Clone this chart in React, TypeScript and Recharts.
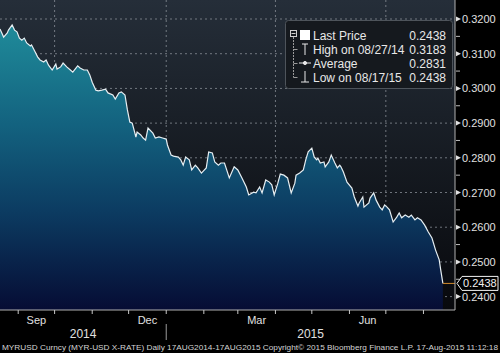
import React from "react";
import { ComposedChart, Area, XAxis, YAxis, CartesianGrid, ReferenceLine } from "recharts";

// ---- data (day offsets from 17-Aug-2014, MYR-USD rate) ----
const START_DATE = "2014-08-17";
const dayOffsets = [
  0, 3, 6, 7, 10, 12, 14, 16, 18, 20, 22, 25, 26, 29, 31, 33, 36, 38, 40, 43,
  46, 47, 50, 52, 55, 58, 60, 64, 66, 69, 72, 74, 76, 79, 81, 84, 87, 89, 93, 95,
  98, 100, 103, 105, 107, 109, 112, 113, 116, 118, 120, 122, 126, 128, 131, 134, 137, 138, 141, 143,
  147, 149, 151, 153, 156, 158, 161, 163, 166, 170, 172, 175, 177, 180, 182, 185, 189, 193, 196, 199,
  203, 205, 209, 211, 214, 216, 219, 222, 224, 226, 229, 231, 234, 237, 240, 243, 244, 247, 250, 252,
  254, 257, 259, 261, 262, 264, 267, 268, 271, 273, 276, 278, 280, 281, 283, 286, 290, 292, 295, 296,
  299, 300, 304, 305, 308, 310, 313, 315, 317, 319, 321, 324, 327, 329, 331, 334, 337, 339, 342, 344,
  347, 350, 353, 356, 359, 362, 363, 365,
];
const rates = [
  0.3171, 0.3148, 0.316, 0.3168, 0.3183, 0.3168, 0.3163, 0.3145, 0.3139, 0.3145,
  0.3131, 0.3122, 0.3125, 0.3105, 0.3091, 0.3082, 0.3076, 0.3082, 0.3067, 0.3053,
  0.307, 0.3056, 0.3062, 0.3073, 0.3062, 0.3053, 0.3047, 0.3065, 0.3059, 0.3053,
  0.3053, 0.3039, 0.3018, 0.2995, 0.2993, 0.2995, 0.2998, 0.2987, 0.2981, 0.2969,
  0.2987, 0.299, 0.2981, 0.2938, 0.2903, 0.29, 0.286, 0.2874, 0.2866, 0.2857,
  0.2851, 0.2886, 0.2871, 0.2857, 0.286, 0.2857, 0.2854, 0.2837, 0.2808, 0.2805,
  0.2802, 0.2794, 0.2779, 0.2802, 0.2794, 0.2765, 0.2779, 0.2771, 0.2756, 0.2771,
  0.2817, 0.2814, 0.2788, 0.2779, 0.2785, 0.2785, 0.2742, 0.2774, 0.2765, 0.2745,
  0.2716, 0.2693, 0.2701, 0.2699, 0.2716, 0.2699, 0.2736, 0.273, 0.2722, 0.2693,
  0.2727, 0.2753, 0.275, 0.2742, 0.2699, 0.2727, 0.275, 0.2756, 0.2765, 0.2794,
  0.2817, 0.2828, 0.2802, 0.2794, 0.2799, 0.2785, 0.2788, 0.2774, 0.2788, 0.2808,
  0.2785, 0.2771, 0.2779, 0.2774, 0.2759, 0.273, 0.2713, 0.2687, 0.2661, 0.267,
  0.2687, 0.2658, 0.267, 0.2684, 0.2699, 0.2678, 0.2658, 0.265, 0.2664, 0.2658,
  0.265, 0.2615, 0.2629, 0.2641, 0.2627, 0.2635, 0.2629, 0.2635, 0.2621, 0.2627,
  0.2621, 0.2606, 0.2586, 0.2569, 0.2534, 0.2506, 0.2482, 0.2438,
];

const lastPrice = 0.2438;
const yMajorTicks = [0.24, 0.25, 0.26, 0.27, 0.28, 0.29, 0.3, 0.31, 0.32];
const yMinorTicks = [0.245, 0.255, 0.265, 0.275, 0.285, 0.295, 0.305, 0.315];
const yDomain = [0.23614, 0.32548];
const xDomainEnd = 375;

const monthStarts = [
  "2014-09-01", "2014-10-01", "2014-11-01", "2014-12-01", "2015-01-01", "2015-02-01",
  "2015-03-01", "2015-04-01", "2015-05-01", "2015-06-01", "2015-07-01", "2015-08-01",
];
const gridMonths = ["2014-10-01", "2015-01-01", "2015-04-01", "2015-07-01"];
const monthLabels = [
  { name: "Sep", from: "2014-09-01", to: "2014-10-01" },
  { name: "Dec", from: "2014-12-01", to: "2015-01-01" },
  { name: "Mar", from: "2015-03-01", to: "2015-04-01" },
  { name: "Jun", from: "2015-06-01", to: "2015-07-01" },
];
const yearBoundary = "2015-01-01";
const yearLabels = ["2014", "2015"];

const legendRows = [
  { label: "Last Price", value: "0.2438", icon: "square" },
  { label: "High on 08/27/14", value: "0.3183", icon: "high" },
  { label: "Average", value: "0.2831", icon: "avg" },
  { label: "Low on 08/17/15", value: "0.2438", icon: "low" },
];

const footerText =
  "MYRUSD Curncy (MYR-USD X-RATE)  Daily 17AUG2014-17AUG2015  Copyright\u00A9 2015 Bloomberg Finance L.P.  17-Aug-2015 11:12:18";

// ---- helpers ----
const dayOf = (s: string) => Math.round((Date.parse(s) - Date.parse(START_DATE)) / 86400000);

const data = dayOffsets.map((d, i) => ({ day: d, rate: rates[i] }));

const xTickInfo = new Map<number, { kind: string; text?: string }>();
monthStarts.forEach((m) => xTickInfo.set(dayOf(m), { kind: m === yearBoundary ? "yearStart" : "month" }));
monthLabels.forEach((m) => xTickInfo.set((dayOf(m.from) + dayOf(m.to)) / 2, { kind: "monthLabel", text: m.name }));
const yb = dayOf(yearBoundary);
xTickInfo.set(yb / 2, { kind: "yearLabel", text: yearLabels[0] });
xTickInfo.set((yb + xDomainEnd) / 2, { kind: "yearLabel", text: yearLabels[1] });
const xTicks = Array.from(xTickInfo.keys()).sort((a, b) => a - b);

const FONT = "'Liberation Sans', Arial, sans-serif";

const XTick = (props: any) => {
  const { x, y, payload } = props;
  const info = xTickInfo.get(payload.value);
  if (!info) return null;
  if (info.kind === "month" || info.kind === "yearStart") {
    return (
      <g>
        <line x1={x} y1={y} x2={x} y2={y + 4} stroke="#c8c8c8" strokeWidth={1} />
        {info.kind === "yearStart" && (
          <line x1={x} y1={y + 14} x2={x} y2={y + 30} stroke="#9a9a9a" strokeWidth={1} />
        )}
      </g>
    );
  }
  if (info.kind === "monthLabel") {
    return (
      <text x={x} y={y + 14} textAnchor="middle" fontFamily={FONT} fontSize={11} fill="#e0e0e0">
        {info.text}
      </text>
    );
  }
  return (
    <text x={x} y={y + 28} textAnchor="middle" fontFamily={FONT} fontSize={12} fill="#e0e0e0">
      {info.text}
    </text>
  );
};

const YTick = (props: any) => {
  const { x, y, payload } = props;
  const v = payload.value;
  if (v === lastPrice) {
    return (
      <g>
        <path
          d={`M${x + 2},${y} L${x + 7},${y - 7} L${x + 43},${y - 7} L${x + 43},${y + 7} L${x + 7},${y + 7} Z`}
          fill="#000"
          stroke="#f0f0f0"
          strokeWidth={1}
        />
        <text x={x + 8} y={y + 4} fontFamily={FONT} fontSize={11} fill="#f0f0f0">
          {v.toFixed(4)}
        </text>
      </g>
    );
  }
  if (yMajorTicks.includes(v)) {
    return (
      <g>
        <path d={`M${x + 1},${y - 2.5} L${x + 6},${y} L${x + 1},${y + 2.5} Z`} fill="#e0e0e0" />
        <text x={x + 7} y={y + 4} fontFamily={FONT} fontSize={11} fill="#e0e0e0">
          {v.toFixed(4)}
        </text>
      </g>
    );
  }
  return <line x1={x + 1} y1={y} x2={x + 5} y2={y} stroke="#bdbdbd" strokeWidth={1} />;
};

const LegendIcon = ({ kind, cy }: { kind: string; cy: number }) => {
  const cx = 305;
  if (kind === "square") return <rect x={300} y={cy - 5} width={10} height={10} fill="#ffffff" />;
  if (kind === "high")
    return (
      <g stroke="#e8e8e8" strokeWidth={1}>
        <line x1={cx} y1={cy - 5} x2={cx} y2={cy + 6} />
        <line x1={cx - 3} y1={cy - 5} x2={cx + 3} y2={cy - 5} />
      </g>
    );
  if (kind === "avg")
    return (
      <g stroke="#e8e8e8" strokeWidth={1}>
        <line x1={cx - 6} y1={cy} x2={cx + 6} y2={cy} />
        <circle cx={cx} cy={cy} r={1.6} fill="#e8e8e8" />
      </g>
    );
  return (
    <g stroke="#e8e8e8" strokeWidth={1}>
      <line x1={cx} y1={cy - 6} x2={cx} y2={cy + 5} />
      <line x1={cx - 4} y1={cy + 5} x2={cx + 4} y2={cy + 5} />
    </g>
  );
};

const Overlay = () => (
  <svg
    width={500}
    height={353}
    style={{ position: "absolute", left: 0, top: 0, pointerEvents: "none" }}
  >
    <rect x={285.5} y={20.5} width={167} height={68} rx={3} fill="#15191e" stroke="#4e545b" strokeWidth={1} />
    {/* tree */}
    <rect x={290.5} y={30.5} width={6} height={6} fill="none" stroke="#d0d0d0" strokeWidth={1} />
    <line x1={291.5} y1={33.5} x2={295.5} y2={33.5} stroke="#d0d0d0" strokeWidth={1} />
    <line x1={293.5} y1={37} x2={293.5} y2={77.5} stroke="#9a9a9a" strokeWidth={1} strokeDasharray="2 1" />
    {legendRows.map((r, i) => {
      const cy = 35 + i * 14;
      return (
        <g key={r.label}>
          {i > 0 && <line x1={293.5} y1={cy + 0.5} x2={297.5} y2={cy + 0.5} stroke="#9a9a9a" strokeWidth={1} />}
          <LegendIcon kind={r.icon} cy={cy} />
          <text x={313} y={cy + 4.5} fontFamily={FONT} fontSize={12} fill="#e8e8e8">
            {r.label}
          </text>
          <text x={446} y={cy + 4.5} textAnchor="end" fontFamily={FONT} fontSize={12} fill="#e8e8e8">
            {r.value}
          </text>
        </g>
      );
    })}
    <text x={2} y={350} fontFamily={FONT} fontSize={8} fill="#d4d4d4" textLength={496} lengthAdjust="spacingAndGlyphs">
      {footerText}
    </text>
  </svg>
);

export default function App() {
  return (
    <div style={{ position: "absolute", left: 0, top: 0, width: 500, height: 353, background: "#000", overflow: "hidden" }}>
      <ComposedChart width={500} height={353} data={data} margin={{ top: 0, right: 0, left: 0, bottom: 9 }}>
        <defs>
          <linearGradient id="bgGrad" x1="0" y1="0" x2="0" y2="1">
            <stop offset="0%" stopColor="#252e39" />
            <stop offset="50%" stopColor="#161b22" />
            <stop offset="100%" stopColor="#08090d" />
          </linearGradient>
          <linearGradient id="areaGrad" x1="0" y1="0" x2="0" y2="1">
            <stop offset="0%" stopColor="#1f8b9a" />
            <stop offset="35%" stopColor="#13627f" />
            <stop offset="65%" stopColor="#0c3c62" />
            <stop offset="100%" stopColor="#060c34" />
          </linearGradient>
        </defs>
        <CartesianGrid
          horizontalValues={yMajorTicks}
          verticalValues={gridMonths.map(dayOf)}
          stroke="#8d949c"
          strokeOpacity={0.75}
          strokeDasharray="2 3"
          fill="url(#bgGrad)"
          fillOpacity={1}
        />
        <XAxis
          dataKey="day"
          type="number"
          domain={[0, xDomainEnd]}
          allowDataOverflow
          ticks={xTicks}
          interval={0}
          height={34}
          tickSize={0}
          tickMargin={0}
          tickLine={false}
          axisLine={{ stroke: "#b0b0b0", strokeWidth: 1 }}
          tick={<XTick />}
        />
        <YAxis
          orientation="right"
          type="number"
          domain={yDomain}
          allowDataOverflow
          ticks={[...yMajorTicks, ...yMinorTicks, lastPrice]}
          interval={0}
          width={45}
          tickSize={0}
          tickMargin={0}
          tickLine={false}
          axisLine={{ stroke: "#b0b0b0", strokeWidth: 1 }}
          tick={<YTick />}
        />
        <Area
          type="linear"
          dataKey="rate"
          stroke="#e6eef2"
          strokeWidth={1.2}
          fill="url(#areaGrad)"
          fillOpacity={1}
          isAnimationActive={false}
          dot={false}
          activeDot={false}
        />
        <ReferenceLine
          segment={[
            { x: dayOffsets[dayOffsets.length - 1], y: lastPrice },
            { x: xDomainEnd, y: lastPrice },
          ]}
          stroke="#d08a2c"
          strokeWidth={1}
          ifOverflow="visible"
        />
      </ComposedChart>
      <Overlay />
    </div>
  );
}
